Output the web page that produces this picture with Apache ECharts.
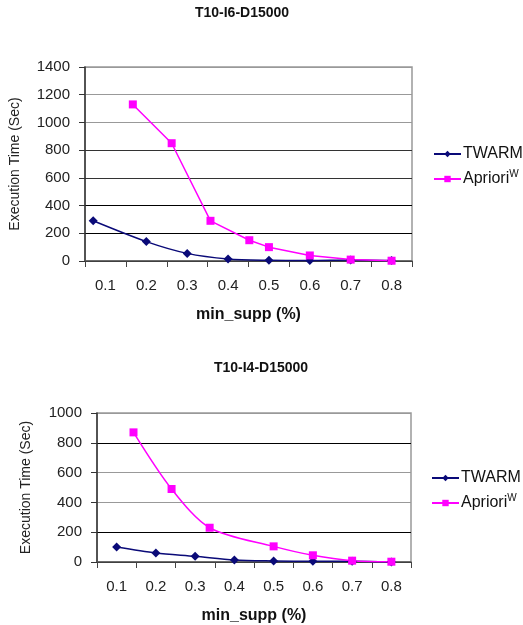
<!DOCTYPE html>
<html>
<head>
<meta charset="utf-8">
<script src="https://cdn.jsdelivr.net/npm/echarts@6/dist/echarts.min.js"></script>
<style>
html, body { margin: 0; padding: 0; background: #fff; }
#main { width: 523px; height: 625px; }
</style>
</head>
<body>
<div id="main"></div>
<script>
// category labels on the x axis
var xLabels = ['0.1', '0.2', '0.3', '0.4', '0.5', '0.6', '0.7', '0.8'];

// T10-I6-D15000
var topTwarmX = [0.07, 0.2, 0.3, 0.4, 0.5, 0.6, 0.7, 0.8];
var topTwarmY = [290, 140, 55, 15, 5, 3, 7, 3];
var topAprioriX = [0.167, 0.262, 0.357, 0.452, 0.5, 0.6, 0.7, 0.8];
var topAprioriY = [1130, 850, 290, 150, 100, 40, 10, 2];

// T10-I4-D15000
var botTwarmX = [0.1, 0.2, 0.3, 0.4, 0.5, 0.6, 0.7, 0.8];
var botTwarmY = [100, 60, 38, 13, 7, 5, 5, 0];
var botAprioriX = [0.143, 0.24, 0.337, 0.5, 0.6, 0.7, 0.8];
var botAprioriY = [870, 490, 230, 105, 45, 9, 2];

function pairs(xs, ys) {
    var out = [];
    for (var i = 0; i < xs.length; i++) {
        out.push([xs[i], ys[i]]);
    }
    return out;
}

var font = 'Liberation Sans, Arial, sans-serif';
var navy = '#0a0a78';
var magenta = '#ff00ff';

function catAxis(gridIndex) {
    return {
        type: 'category',
        gridIndex: gridIndex,
        data: xLabels,
        boundaryGap: true,
        name: 'min_supp (%)',
        nameLocation: 'middle',
        nameGap: 46,
        nameTextStyle: { fontFamily: font, fontSize: 16, fontWeight: 'bold', color: '#111' },
        axisLine: { lineStyle: { color: '#555', width: 1.5 } },
        axisTick: { show: true, length: 6, lineStyle: { color: '#444' } },
        axisLabel: { fontFamily: font, fontSize: 15, color: '#222', margin: 17 },
        splitLine: { show: false }
    };
}

function valXAxis(gridIndex) {
    return {
        type: 'value',
        gridIndex: gridIndex,
        min: 0.05,
        max: 0.85,
        show: false
    };
}

function yAxis(gridIndex, max, gap, colors) {
    return {
        type: 'value',
        gridIndex: gridIndex,
        min: 0,
        max: max,
        interval: 200,
        name: 'Execution Time (Sec)',
        nameLocation: 'middle',
        nameGap: gap,
        nameTextStyle: { fontFamily: font, fontSize: 14, color: '#222' },
        axisLine: { show: true, lineStyle: { color: '#333', width: 1.5 } },
        axisTick: { show: true, length: 6, inside: false, lineStyle: { color: '#333' } },
        axisLabel: {
            fontFamily: font, fontSize: 15, color: '#222', margin: 15,
            formatter: function (v) { return String(v); }
        },
        splitLine: { show: true, lineStyle: { color: colors, width: 1.2 } }
    };
}

function legend(left, top) {
    return {
        orient: 'vertical',
        left: left,
        top: top,
        itemWidth: 27,
        itemHeight: 8,
        itemGap: 7,
        data: ['TWARM', 'Apriori'],
        formatter: function (name) {
            return name === 'Apriori' ? 'Apriori{sup|W}' : name;
        },
        textStyle: {
            fontFamily: font, fontSize: 16, color: '#111', padding: [0, 0, 0, -3],
            rich: {
                sup: { fontFamily: font, fontSize: 10, color: '#111', verticalAlign: 'top', padding: [0, 0, 10, 0] }
            }
        }
    };
}

var myChart = echarts.init(document.getElementById('main'));
var option = {
    animation: false,
    backgroundColor: '#fff',
    title: [
        { text: 'T10-I6-D15000', left: 237, top: 1, textAlign: 'center',
          textStyle: { fontFamily: font, fontSize: 14, fontWeight: 'bold', color: '#111' } },
        { text: 'T10-I4-D15000', left: 256, top: 356, textAlign: 'center',
          textStyle: { fontFamily: font, fontSize: 14, fontWeight: 'bold', color: '#111' } }
    ],
    legend: [legend(428, 141), legend(426, 465)],
    grid: [
        { left: 85, top: 67, width: 327, height: 194, show: true, borderColor: '#999', borderWidth: 1.5,
          containLabel: false, outerBoundsMode: 'none' },
        { left: 97, top: 413, width: 314, height: 149, show: true, borderColor: '#999', borderWidth: 1.5,
          containLabel: false, outerBoundsMode: 'none' }
    ],
    xAxis: [catAxis(0), valXAxis(0), catAxis(1), valXAxis(1)],
    yAxis: [
        yAxis(0, 1400, 63, ['#000', '#000', '#000', '#333', '#333', '#999', '#999', '#999']),
        yAxis(1, 1000, 64, ['#000', '#000', '#999', '#999', '#000', '#999'])
    ],
    series: [
        { name: 'TWARM', type: 'line', xAxisIndex: 1, yAxisIndex: 0, smooth: 0.3,
          symbol: 'diamond', symbolSize: 9, color: navy, lineStyle: { width: 1.5, color: navy },
          data: pairs(topTwarmX, topTwarmY) },
        { name: 'Apriori', type: 'line', xAxisIndex: 1, yAxisIndex: 0, smooth: false,
          symbol: 'rect', symbolSize: 8, color: magenta, lineStyle: { width: 1.5, color: magenta },
          data: pairs(topAprioriX, topAprioriY) },
        { name: 'TWARM', type: 'line', xAxisIndex: 3, yAxisIndex: 1, smooth: 0.3,
          symbol: 'diamond', symbolSize: 9, color: navy, lineStyle: { width: 1.5, color: navy },
          data: pairs(botTwarmX, botTwarmY) },
        { name: 'Apriori', type: 'line', xAxisIndex: 3, yAxisIndex: 1, smooth: 0.3,
          symbol: 'rect', symbolSize: 8, color: magenta, lineStyle: { width: 1.5, color: magenta },
          data: pairs(botAprioriX, botAprioriY) }
    ]
};
myChart.setOption(option);
</script>
</body>
</html>
